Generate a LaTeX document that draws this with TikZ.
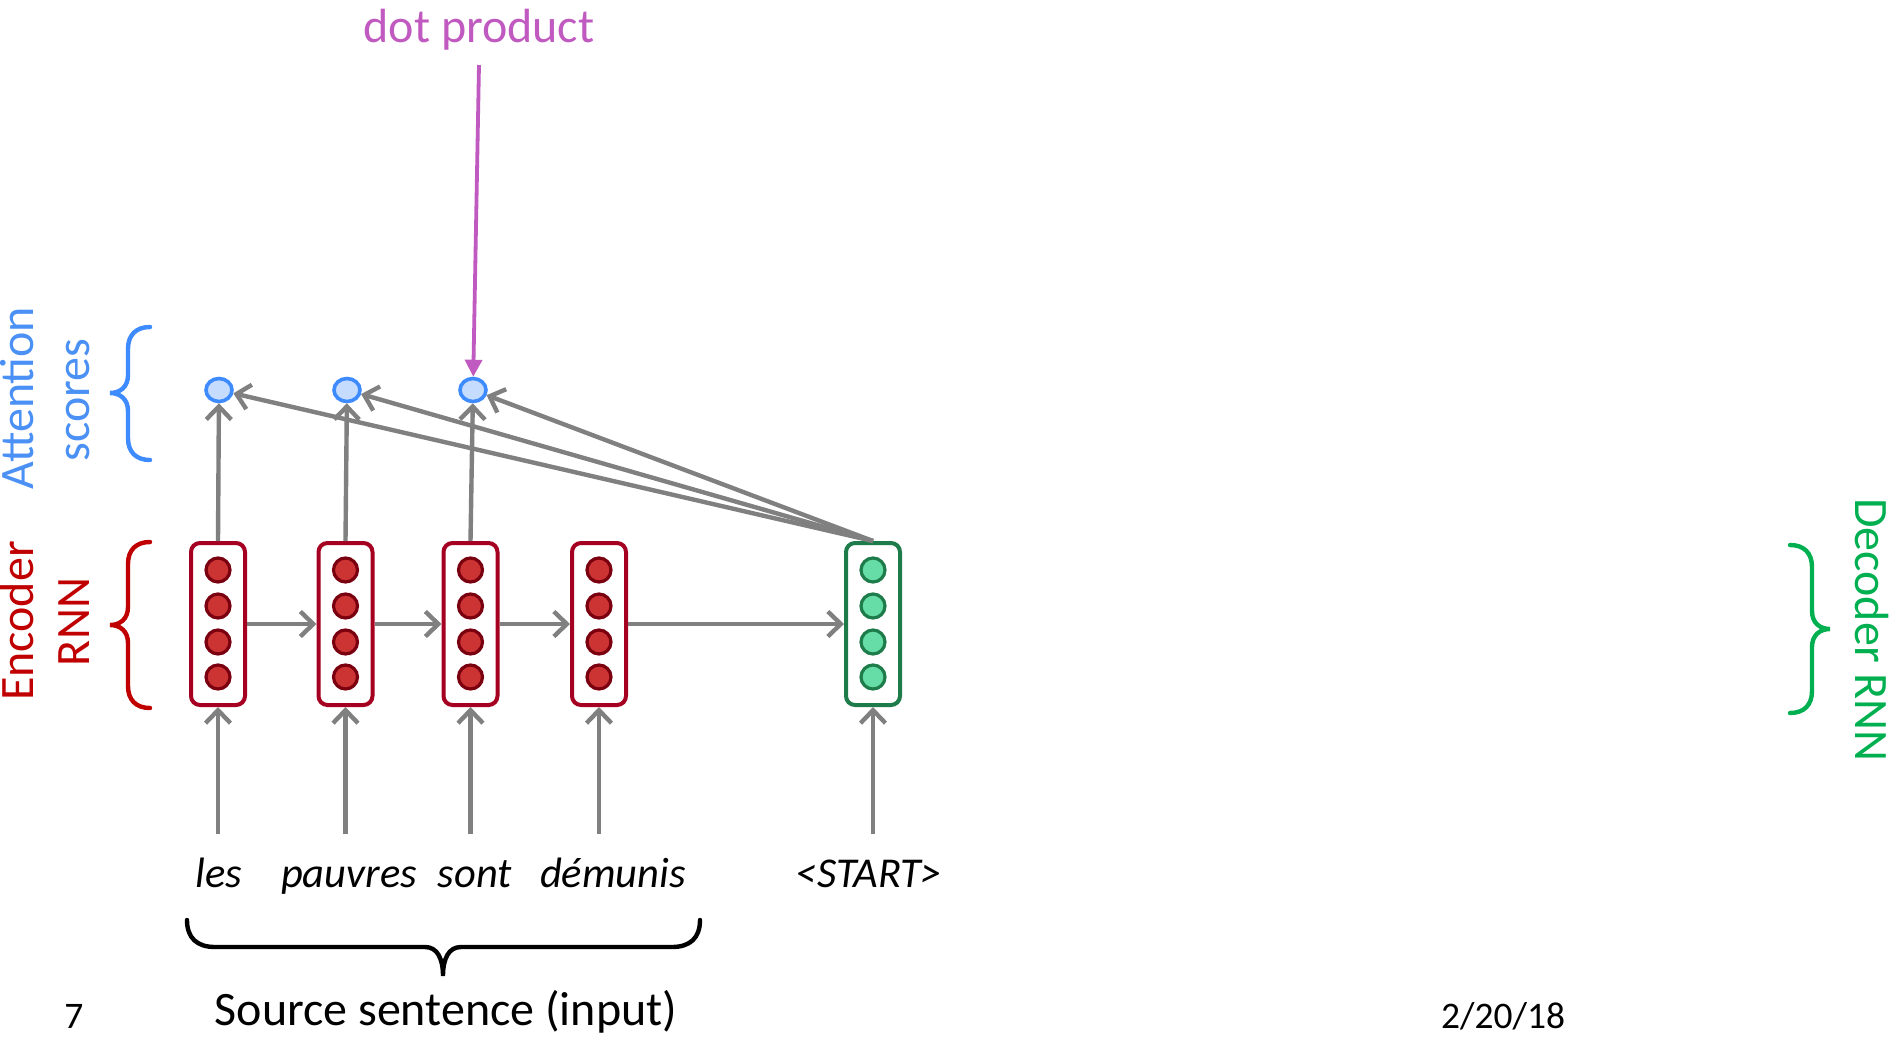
\documentclass[tikz,border=0pt]{standalone}
\usepackage{fontspec}
\setmainfont{Carlito}
\usetikzlibrary{arrows.meta,shapes.geometric}
\definecolor{gline}{HTML}{808080}
\definecolor{encred}{HTML}{A50021}
\definecolor{encfill}{HTML}{CC3333}
\definecolor{encdark}{HTML}{7A0010}
\definecolor{decgreen}{HTML}{1E7B4A}
\definecolor{decfill}{HTML}{66DDA6}
\definecolor{attblue}{HTML}{3D8BFF}
\definecolor{attfill}{HTML}{C6DCFF}
\definecolor{lblred}{HTML}{C00000}
\definecolor{lblgreen}{HTML}{00B050}
\definecolor{lblblue}{HTML}{4A90F5}
\definecolor{dotmag}{HTML}{C05AC0}
\tikzset{
  garr/.style={draw=gline, line width=4.4pt, -{Straight Barb[length=13pt,width=25pt,line width=4.4pt]}},
  magarr/.style={draw=dotmag, line width=3.8pt, -{Triangle[length=17pt,width=17pt]}},
  encbox/.style={draw=encred, line width=4pt, rounded corners=9pt, minimum width=54pt, minimum height=162pt, inner sep=0pt, fill=white},
  decbox/.style={encbox, draw=decgreen},
  encdot/.style={circle, draw=encdark, fill=encfill, line width=3.2pt, minimum size=24pt, inner sep=0pt},
  decdot/.style={encdot, draw=decgreen, fill=decfill},
  attnode/.style={ellipse, draw=attblue, fill=attfill, line width=3.6pt, minimum width=26pt, minimum height=23pt, inner sep=0pt},
  bigtxt/.style={font=\fontsize{48}{54}\selectfont, inner sep=0pt},
  wordtxt/.style={font=\fontsize{42.5}{48}\selectfont\itshape, inner sep=0pt, anchor=base},
  smalltxt/.style={font=\fontsize{37.5}{42}\selectfont, inner sep=0pt, anchor=base},
  bracepath/.style={line width=4.4pt, line cap=round}
}
\begin{document}
\begin{tikzpicture}[x=1pt,y=-1pt]
\useasboundingbox (0,0) rectangle (1893,1037);

% encoder boxes
\foreach \i/\x in {1/218,2/345.5,3/470.5,4/599}{
  \node[encbox] (e\i) at (\x,624) {};
  \foreach \j/\y in {1/570,2/606,3/642,4/677}
    \node[encdot] (e\i d\j) at (\x,\y) {};
}
% decoder box
\node[decbox] (d) at (873,624) {};
\foreach \j/\y in {1/570,2/606,3/642,4/677}
  \node[decdot] (dd\j) at (873,\y) {};

% attention score nodes
\node[attnode] (a1) at (219,390) {};
\node[attnode] (a2) at (347,390) {};
\node[attnode] (a3) at (473,390) {};

% recurrent arrows
\draw[garr] (e1) -- (e2);
\draw[garr] (e2) -- (e3);
\draw[garr] (e3) -- (e4);
\draw[garr] (e4) -- (d);

% encoder to scores
\draw[garr] (e1.north) -- (a1);
\draw[garr] (e2.north) -- (a2);
\draw[garr] (e3.north) -- (a3);
% decoder to scores
\draw[garr] (d.north) -- (a1);
\draw[garr] (d.north) -- (a2);
\draw[garr] (d.north) -- (a3);

% input arrows
\coordinate (i1) at (218,834);
\coordinate (i2) at (345.5,834);
\coordinate (i3) at (470.5,834);
\coordinate (i4) at (599,834);
\coordinate (i5) at (873,834);
\draw[garr] (i1) -- (e1);
\draw[garr] (i2) -- (e2);
\draw[garr] (i3) -- (e3);
\draw[garr] (i4) -- (e4);
\draw[garr] (i5) -- (d);

% words
\node[wordtxt] (w1) at (219,887) {les};
\node[wordtxt] (w2) at (349,887) {pauvres};
\node[wordtxt] (w3) at (475,887) {sont};
\node[wordtxt] (w4) at (613,887) {démunis};
\node[wordtxt] (w5) at (869,887) {<START>};

% dot product
\node[bigtxt, text=dotmag, anchor=base] (dp) at (479,42) {dot product};
\coordinate (dpstart) at (479,65);
\draw[magarr] (dpstart) -- (a3);

% side labels
\node[bigtxt, text=lblblue, rotate=90, anchor=base] (lbatt) at (34,398) {Attention};
\node[bigtxt, text=lblblue, rotate=90, anchor=base] (lbsc) at (89,400) {scores};
\node[bigtxt, text=lblred, rotate=90, anchor=base] (lbenc) at (33,621) {Encoder};
\node[bigtxt, text=lblred, rotate=90, anchor=base] (lbrnn) at (89,622) {RNN};
\node[bigtxt, text=lblgreen, rotate=-90, anchor=base] (lbdec) at (1855,630) {Decoder RNN};

% braces
\draw[bracepath, attblue] (150,327) .. controls (136,327) and (128,335) .. (128,349) -- (128,375)
  .. controls (128,387) and (120,393) .. (110,393) .. controls (120,393) and (128,399) .. (128,411)
  -- (128,438) .. controls (128,452) and (136,460) .. (150,460);
\draw[bracepath, lblred] (150,542) .. controls (136,542) and (128,550) .. (128,564) -- (128,607)
  .. controls (128,619) and (120,625) .. (110,625) .. controls (120,625) and (128,631) .. (128,643)
  -- (128,686) .. controls (128,700) and (136,708) .. (150,708);
\draw[bracepath, lblgreen] (1790,545) .. controls (1804,545) and (1812,553) .. (1812,567) -- (1812,611)
  .. controls (1812,623) and (1820,629) .. (1830,629) .. controls (1820,629) and (1812,635) .. (1812,647)
  -- (1812,691) .. controls (1812,705) and (1804,713) .. (1790,713);
\draw[bracepath, black] (187,920) .. controls (187,938) and (197,947) .. (215,947) -- (425,947)
  .. controls (437,947) and (443,958) .. (443,976) .. controls (443,958) and (449,947) .. (461,947)
  -- (672,947) .. controls (690,947) and (700,938) .. (700,920);

% bottom texts
\node[bigtxt, anchor=base] (src) at (446,1025) {Source sentence (input)};
\node[smalltxt] (pg) at (74,1028) {7};
\node[smalltxt] (dt) at (1503,1028) {2/20/18};
\end{tikzpicture}
\end{document}
